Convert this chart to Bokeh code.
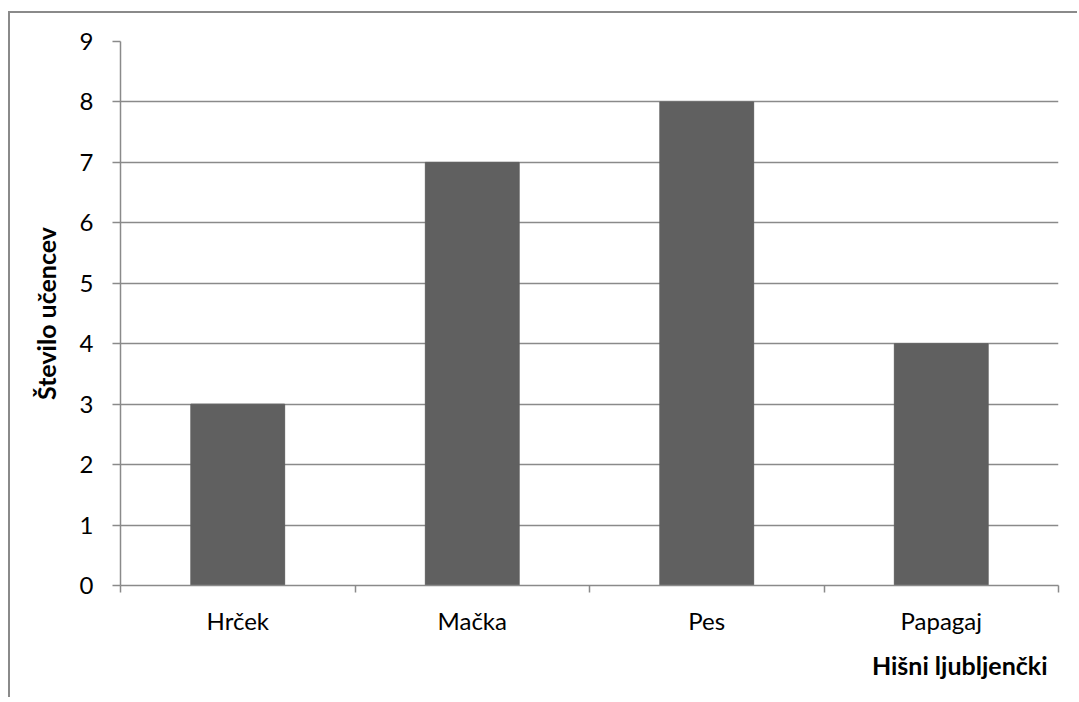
from bokeh.plotting import figure
from bokeh.models import FixedTicker, Range1d, Title
from bokeh.embed import file_html
from bokeh.resources import INLINE

categories = ["Hrček", "Mačka", "Pes", "Papagaj"]
counts = [3, 7, 8, 4]
y_ticks = [0, 1, 2, 3, 4, 5, 6, 7, 8, 9]

FONT = "Lato"
GRAY = "#8a8a8a"

xs = [i + 0.5 for i in range(len(categories))]

p = figure(width=1069, height=686, output_backend="svg", toolbar_location=None,
           x_range=Range1d(0, len(categories)), y_range=Range1d(0, 9),
           min_border_left=110, min_border_right=21, min_border_top=28, min_border_bottom=114)
p.margin = (11, 0, 0, 8)
p.styles = {"border-top": "2px solid #8a8a8a", "border-left": "2px solid #8a8a8a"}
p.outline_line_color = None
p.background_fill_color = "white"
p.border_fill_color = "white"

p.vbar(x=xs, top=counts, width=0.4, color="#606060")

xa = p.xaxis[0]
xa.ticker = FixedTicker(ticks=xs, minor_ticks=list(range(len(categories) + 1)))
xa.major_label_overrides = {x: c for x, c in zip(xs, categories)}
xa.major_tick_line_color = None
xa.minor_tick_out = 7
xa.minor_tick_in = 0
xa.minor_tick_line_color = GRAY
xa.minor_tick_line_width = 1.5
xa.axis_line_color = GRAY
xa.axis_line_width = 1.5
xa.major_label_text_font = FONT
xa.major_label_text_font_size = "24px"
xa.major_label_text_color = "black"
xa.major_label_standoff = 13

ya = p.yaxis[0]
ya.ticker = FixedTicker(ticks=y_ticks)
ya.major_tick_out = 8
ya.major_tick_in = 0
ya.minor_tick_line_color = None
ya.major_tick_line_color = GRAY
ya.major_tick_line_width = 1.5
ya.axis_line_color = GRAY
ya.axis_line_width = 1.5
ya.major_label_text_font = FONT
ya.major_label_text_font_size = "24px"
ya.major_label_text_color = "black"
ya.major_label_standoff = 19
ya.axis_label = "Število učencev"
ya.axis_label_text_font = FONT
ya.axis_label_text_font_style = "bold"
ya.axis_label_text_font_size = "25px"
ya.axis_label_text_color = "black"
ya.axis_label_standoff = 16

p.xgrid.grid_line_color = None
p.ygrid.grid_line_color = GRAY
p.ygrid.grid_line_width = 1.5
p.ygrid.ticker = FixedTicker(ticks=y_ticks)

t = Title(text="Hišni ljubljenčki", align="right", text_font=FONT, text_font_style="bold",
          text_font_size="25px", text_color="black", offset=11, standoff=21)
p.add_layout(t, "below")

open("out.html", "w").write(file_html(p, INLINE))
